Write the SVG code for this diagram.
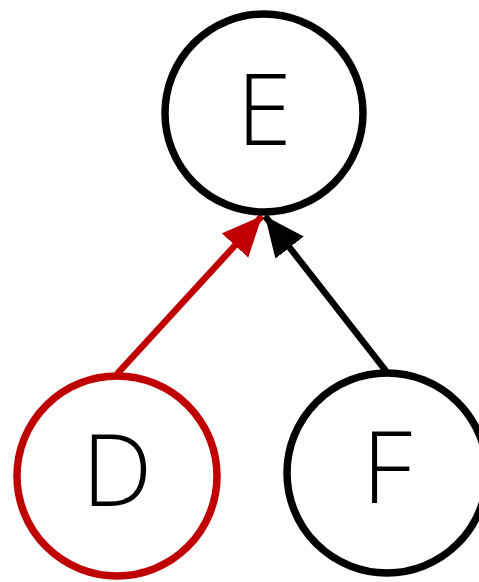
<svg xmlns="http://www.w3.org/2000/svg" width="479" height="582" viewBox="0 0 479 582">
<style>
.node{fill:#fff;stroke-width:7.5}
.lbl{font-family:"Open Sans","Noto Sans",sans-serif;font-size:100px;font-weight:300;fill:#000;text-anchor:middle}
.edge{stroke-width:6.5;fill:none}
</style>
<defs>
<marker id="ar" markerUnits="userSpaceOnUse" markerWidth="44" markerHeight="40" refX="40" refY="18" orient="auto"><path d="M0,0 L40,18 L0,36 z" fill="#c00000"/></marker>
<marker id="ab" markerUnits="userSpaceOnUse" markerWidth="44" markerHeight="40" refX="40" refY="18" orient="auto"><path d="M0,0 L40,18 L0,36 z" fill="#000"/></marker>
</defs>
<g id="connectors">
<line class="edge" x1="117" y1="374" x2="262" y2="216" stroke="#c00000" marker-end="url(#ar)"/>
<line class="edge" x1="386" y1="371" x2="265" y2="216" stroke="#000" marker-end="url(#ab)"/>
</g>
<g id="E"><circle class="node" cx="264" cy="113" r="99" stroke="#000"/><text class="lbl" x="264" y="145">E</text></g>
<g id="D"><circle class="node" cx="117" cy="476" r="100" stroke="#c00000"/><text class="lbl" x="117" y="506">D</text></g>
<g id="F"><circle class="node" cx="387" cy="473" r="100" stroke="#000"/><text class="lbl" x="387" y="503">F</text></g>
</svg>
